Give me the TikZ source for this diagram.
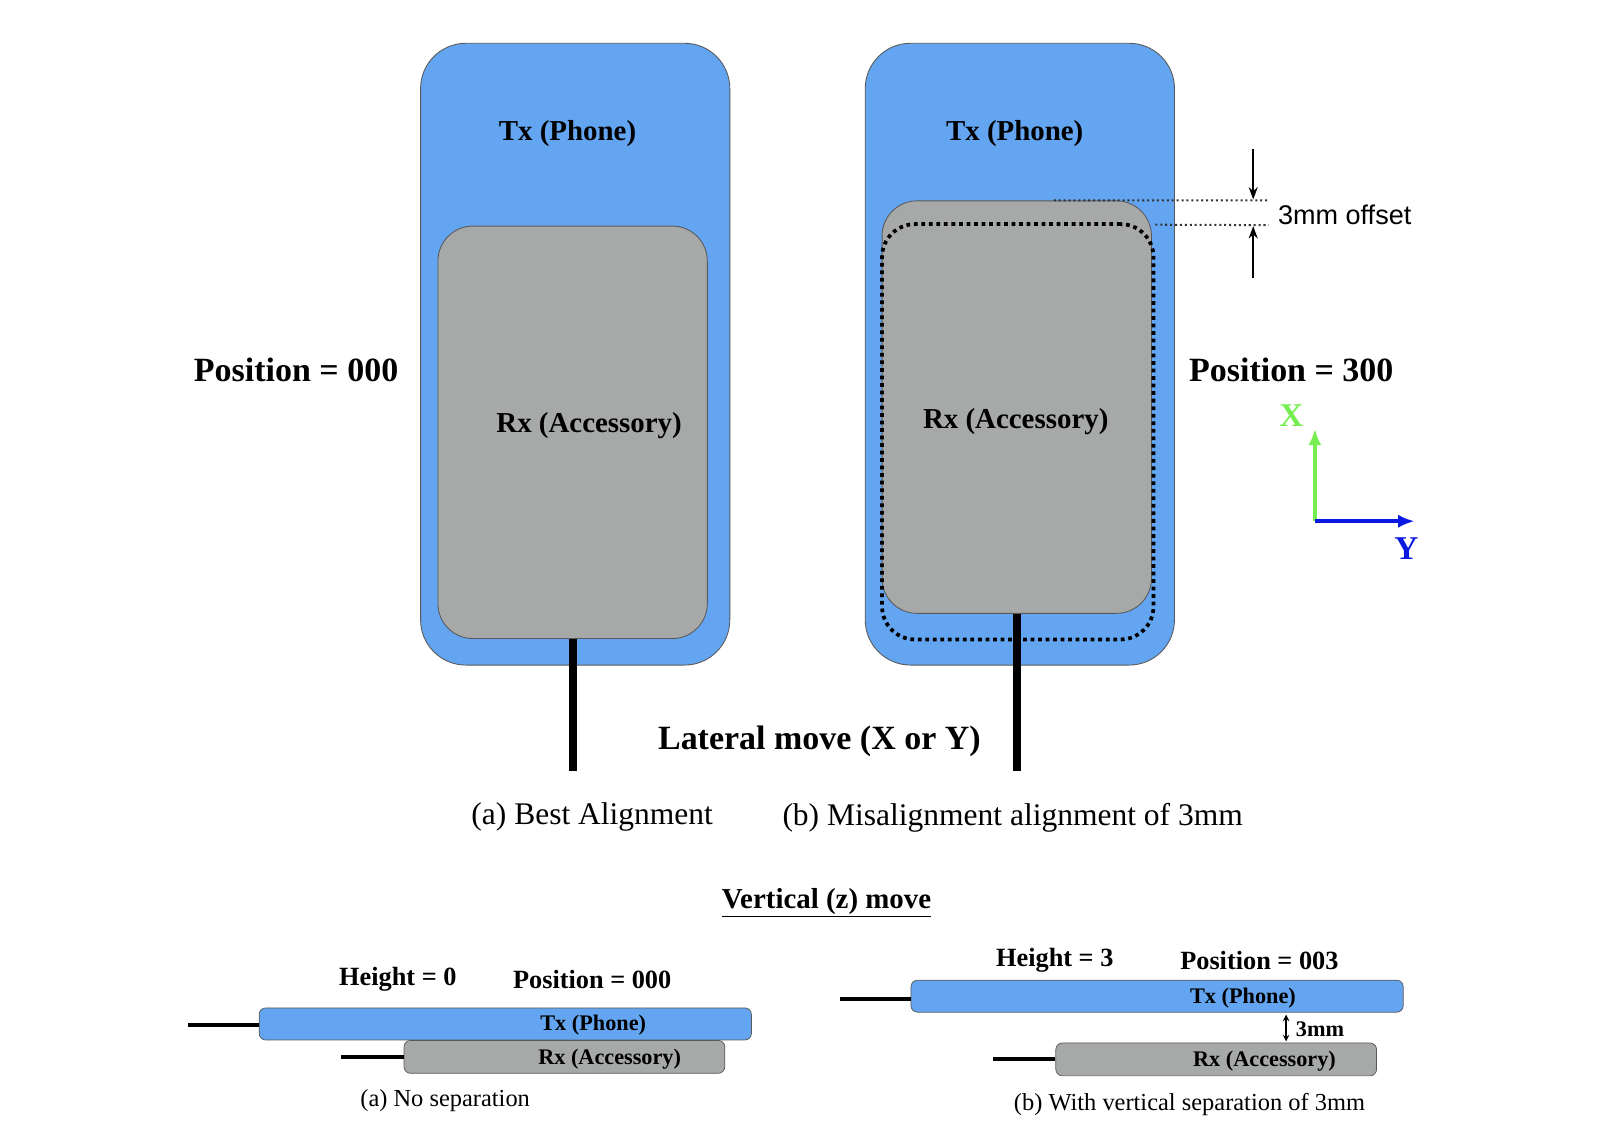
\documentclass[tikz,border=0pt]{standalone}
\usepackage{fontspec}
\setmainfont{Liberation Serif}
\newfontfamily\helvfont{Liberation Sans}
\usetikzlibrary{arrows.meta,positioning}

\definecolor{phoneblue}{RGB}{99,165,240}
\definecolor{accgray}{RGB}{167,169,169}
\definecolor{axisgreen}{RGB}{118,238,82}
\definecolor{axisblue}{RGB}{10,25,225}

\begin{document}
\begin{tikzpicture}[
    x=0.25mm, y=-0.25mm,
    phone/.style={rectangle, rounded corners=11mm, draw=black!65, line width=0.6pt,
                  fill=phoneblue, minimum width=75.2mm, minimum height=151.2mm},
    acc/.style={rectangle, rounded corners=8.5mm, draw=black!65, line width=0.6pt,
                fill=accgray, minimum width=65.5mm, minimum height=100.3mm},
    ghost/.style={rectangle, rounded corners=8mm, draw=black, line width=2.6pt,
                  dash pattern=on 2.6pt off 2.6pt, minimum width=66mm, minimum height=101mm},
    txbar/.style={rectangle, rounded corners=1.6mm, draw=black!65, line width=0.5pt,
                  fill=phoneblue, minimum width=119.7mm, minimum height=7.8mm},
    rxbar/.style={rectangle, rounded corners=1.6mm, draw=black!65, line width=0.5pt,
                  fill=accgray, minimum width=78mm, minimum height=8mm},
    lbl/.style={font=\fontsize{20}{24}\selectfont\bfseries, inner sep=0pt},
    biglbl/.style={font=\fontsize{23.5}{28}\selectfont\bfseries, inner sep=0pt},
    midlbl/.style={font=\fontsize{18.2}{22}\selectfont\bfseries, inner sep=0pt},
    smalllbl/.style={font=\fontsize{15.4}{18}\selectfont\bfseries, inner sep=0pt},
    capt/.style={font=\fontsize{21.8}{26}\selectfont, inner sep=0pt},
    subcapt/.style={font=\fontsize{16.9}{20}\selectfont, inner sep=0pt},
    cable/.style={line width=2mm, draw=black},
    thincable/.style={line width=1mm, draw=black},
    offline/.style={line width=1.4pt, dash pattern=on 1.4pt off 2pt, draw=black!80},
    dimarr/.style={-{Stealth[length=3mm, width=2.2mm]}, line width=1.2pt, draw=black},
    gaparr/.style={{Stealth[length=1.6mm, width=1.6mm]}-{Stealth[length=1.6mm, width=1.6mm]}, line width=1pt, draw=black},
    axarr/.style={-{Latex[length=4mm, width=3.2mm]}, line width=1mm}
]
    \useasboundingbox (0,0) rectangle (1568,1101);

    % (a) best alignment
    \node[phone] (phonea) at (559.5,344.5) {};
    \node[acc] (rxa) at (557,420.5) {};
    \node[lbl] (txlbla) at (552,130) {Tx (Phone)};
    \node[lbl] (rxlbla) at (573,414) {Rx (Accessory)};
    \coordinate (cabenda) at (557,750);
    \draw[cable] (rxa.south) -- (cabenda);
    \node[biglbl] (posa) at (288,360) {Position = 000};

    % (b) misalignment
    \node[phone] (phoneb) at (992,344.5) {};
    \node[acc] (rxb) at (989,396) {};
    \node[ghost] (ghostb) at (990,420) {};
    \node[lbl] (txlblb) at (987,130) {Tx (Phone)};
    \node[lbl] (rxlblb) at (988,410) {Rx (Accessory)};
    \coordinate (cabendb) at (989,750);
    \draw[cable] (rxb.south) -- (cabendb);
    \node[biglbl] (posb) at (1256,360) {Position = 300};

    % 3mm offset marks
    \coordinate (offtop) at (1234,195);
    \coordinate (offbot) at (1234,219);
    \draw[offline] ([xshift=9mm]rxb.north) -- (offtop);
    \draw[offline] ([yshift=-0.6mm]ghostb.north east) -- (offbot);
    \coordinate (dntail) at (1219,145);
    \coordinate (dntip) at (1219,194);
    \coordinate (uptail) at (1219,270);
    \coordinate (uptip) at (1219,220);
    \draw[dimarr] (dntail) -- (dntip);
    \draw[dimarr] (uptail) -- (uptip);
    \node[font=\helvfont\fontsize{18.7}{22}\selectfont, inner sep=0pt] (offlbl) at (1308,209) {3mm offset};

    % axes
    \coordinate (origin) at (1279,507);
    \coordinate (xend) at (1279,417);
    \coordinate (yend) at (1376,507);
    \draw[axarr, axisgreen] (origin) -- (xend);
    \draw[axarr, axisblue] (origin) -- (yend);
    \node[font=\fontsize{23}{26}\selectfont\bfseries, text=axisgreen, inner sep=0pt] (xlbl) at (1256,404) {X};
    \node[font=\fontsize{23}{26}\selectfont\bfseries, text=axisblue, inner sep=0pt] (ylbl) at (1368,534) {Y};

    \node[biglbl] (lateral) at (797,721) {Lateral move (X or Y)};
    \node[capt] (capa) at (576,795) {(a) Best Alignment};
    \node[capt] (capb) at (985,795) {(b) Misalignment alignment of 3mm};

    % vertical move
    \node[lbl] (vert) at (804,878) {\underline{Vertical (z) move}};

    % (a) no separation
    \node[midlbl] (hta) at (387,953) {Height = 0};
    \node[midlbl] (posza) at (576,953) {Position = 000};
    \node[txbar] (txbara) at (491.5,996) {};
    \node[rxbar] (rxbara) at (549,1028) {};
    \coordinate (txcaba) at (183,997);
    \coordinate (rxcaba) at (332,1028);
    \draw[thincable] (txcaba) -- (txbara.west |- txcaba);
    \draw[thincable] (rxcaba) -- (rxbara.west);
    \node[smalllbl] at (577,997) (txsa) {Tx (Phone)};
    \node[smalllbl] at (593,1030) (rxsa) {Rx (Accessory)};
    \node[subcapt] (capza) at (433,1071) {(a) No separation};

    % (b) with separation
    \node[midlbl] (htb) at (1026,934) {Height = 3};
    \node[midlbl] (poszb) at (1225,934) {Position = 003};
    \node[txbar] (txbarb) at (1125.5,969) {};
    \node[rxbar] (rxbarb) at (1183,1030.5) {};
    \coordinate (txcabb) at (817,972);
    \coordinate (rxcabb) at (966,1030);
    \draw[thincable] (txcabb) -- (txbarb.west |- txcabb);
    \draw[thincable] (rxcabb) -- (rxbarb.west |- rxcabb);
    \node[smalllbl] at (1209,971) (txsb) {Tx (Phone)};
    \node[smalllbl] at (1230,1032) (rxsb) {Rx (Accessory)};
    \coordinate (gaptop) at (1251,987);
    \coordinate (gapbot) at (1251,1013);
    \draw[gaparr] (gaptop) -- (gapbot);
    \node[smalllbl] (gaplbl) at (1284,1001) {3mm};
    \node[subcapt] (capzb) at (1157,1074) {(b) With vertical separation of 3mm};
\end{tikzpicture}
\end{document}
